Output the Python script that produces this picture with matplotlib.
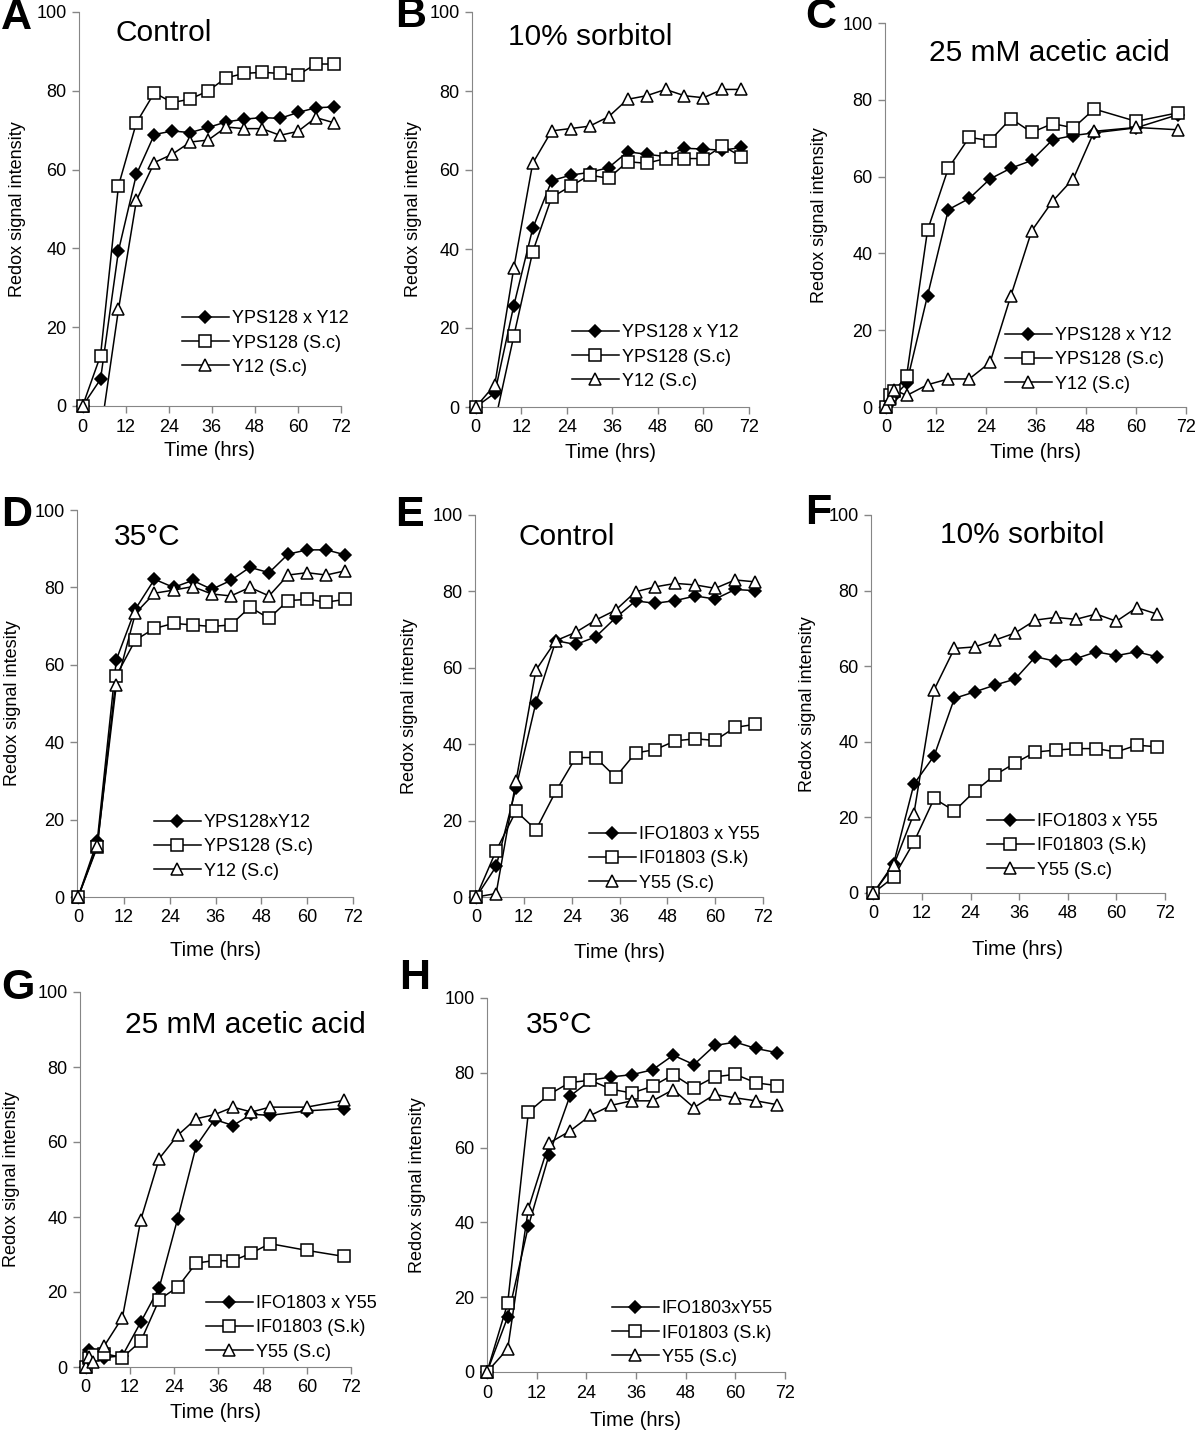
import numpy as np
import matplotlib.pyplot as plt
from matplotlib.lines import Line2D

plt.rcParams.update({
    "font.family": ["Liberation Sans", "DejaVu Sans"],
    "axes.edgecolor": "#868686",
    "xtick.color": "#868686",
    "ytick.color": "#868686",
    "xtick.labelcolor": "black",
    "ytick.labelcolor": "black",
})

# time points (hrs)
t_std = [0, 5, 10, 15, 20, 25, 30, 35, 40, 45, 50, 55, 60, 65, 70]
t_acid = [0, 1, 2, 5, 10, 15, 20, 25, 30, 35, 40, 45, 50, 60, 70]

# A - Control (YPS128 x Y12)
a_hyb = [0, 6.8, 39.4, 58.8, 68.9, 69.8, 69.4, 70.7, 72.1, 72.8, 73.2, 73.0, 74.5, 75.7, 75.9]
a_p1 = [0, 12.8, 55.9, 71.9, 79.5, 77.0, 77.9, 80.0, 83.3, 84.4, 84.7, 84.4, 84.0, 86.8, 86.8]
a_p2 = [0, -7, 24.5, 52.2, 61.8, 63.9, 67.0, 67.5, 70.8, 70.4, 70.4, 68.7, 69.7, 73.2, 71.9]

# B - 10% sorbitol
b_hyb = [0, 3.5, 25.6, 45.2, 57.3, 58.7, 59.4, 60.6, 64.6, 64.0, 63.4, 65.5, 65.3, 65.0, 65.7]
b_p1 = [0, -4, 17.9, 39.3, 53.1, 55.9, 58.7, 57.9, 62.1, 61.7, 62.9, 62.9, 62.9, 66.1, 63.4]
b_p2 = [0, 5.6, 35.1, 61.7, 69.9, 70.5, 71.1, 73.5, 77.9, 78.8, 80.4, 78.8, 78.3, 80.4, 80.4]

# C - 25 mM acetic acid
c_hyb = [0, 1.0, 2.8, 6.2, 29.0, 51.4, 54.3, 59.4, 62.2, 64.2, 69.6, 70.7, 71.4, 72.7, 76.1]
c_p1 = [0, 3.2, 4.1, 8.2, 46.0, 62.2, 70.2, 69.4, 75.1, 71.5, 73.8, 72.7, 77.6, 74.4, 76.6]
c_p2 = [0, 2.0, 4.5, 3.0, 5.8, 7.3, 7.3, 11.6, 29.0, 45.9, 53.6, 59.5, 71.8, 72.8, 72.2]

# D - 35°C
d_hyb = [0, 14.4, 61.3, 74.4, 82.1, 80.0, 81.8, 79.5, 81.8, 85.2, 83.8, 88.6, 89.7, 89.7, 88.4]
d_p1 = [0, 12.9, 57.2, 66.4, 69.4, 70.7, 70.3, 69.9, 70.3, 74.9, 72.0, 76.6, 76.9, 76.2, 76.9]
d_p2 = [0, 13.3, 54.8, 73.3, 78.5, 79.3, 80.2, 78.3, 77.8, 80.0, 77.8, 83.2, 83.8, 83.2, 84.3]

# E - Control (IFO1803 x Y55)
e_hyb = [0, 8.0, 28.6, 50.9, 67.1, 66.1, 68.1, 73.1, 77.5, 76.9, 77.6, 78.8, 78.0, 80.5, 80.2]
e_p1 = [0, 12.1, 22.5, 17.6, 27.7, 36.5, 36.5, 31.4, 37.7, 38.6, 40.9, 41.4, 41.0, 44.4, 45.2]
e_p2 = [0, 0.9, 30.4, 59.4, 67.1, 69.3, 72.5, 75.1, 79.9, 81.2, 82.1, 81.7, 80.8, 83.0, 82.5]

# F - 10% sorbitol
f_hyb = [0, 7.8, 28.8, 36.3, 51.5, 53.2, 55.0, 56.6, 62.5, 61.3, 62.0, 63.8, 62.8, 63.8, 62.5]
f_p1 = [0, 4.2, 13.5, 25.0, 21.7, 26.9, 31.2, 34.4, 37.3, 37.8, 38.2, 38.2, 37.3, 39.1, 38.7]
f_p2 = [0, 7.3, 21.0, 53.8, 64.7, 65.1, 66.9, 68.8, 72.2, 72.9, 72.4, 73.8, 71.9, 75.5, 73.8]

# G - 25 mM acetic acid
g_hyb = [0, 4.6, 3.0, 2.5, 3.0, 12.0, 21.2, 39.6, 58.9, 66.0, 64.4, 67.4, 67.1, 68.3, 68.9]
g_p1 = [0, 2.5, 3.1, 3.6, 2.5, 6.9, 18.0, 21.3, 27.7, 28.4, 28.3, 30.4, 32.9, 31.1, 29.5]
g_p2 = [0, 2.7, 1.3, 5.5, 13.2, 39.3, 55.6, 61.8, 66.2, 67.3, 69.3, 68.0, 69.3, 69.3, 71.1]

# H - 35°C
h_hyb = [0, 14.7, 39.0, 58.1, 73.7, 78.0, 78.9, 79.5, 80.8, 84.7, 82.2, 87.3, 88.2, 86.5, 85.4]
h_p1 = [0, 18.4, 69.5, 74.2, 77.4, 78.0, 75.6, 74.6, 76.4, 79.5, 76.0, 78.9, 79.6, 77.3, 76.6]
h_p2 = [0, 6.2, 43.7, 61.2, 64.4, 68.6, 71.3, 72.5, 72.5, 75.5, 70.7, 74.2, 73.3, 72.5, 71.5]

letters = ["A", "B", "C", "D", "E", "F", "G", "H"]
titles = ["Control", "10% sorbitol", "25 mM acetic acid", "35°C",
          "Control", "10% sorbitol", "25 mM acetic acid", "35°C"]
lab_y12 = ["YPS128 x Y12", "YPS128 (S.c)", "Y12 (S.c)"]
lab_y12b = ["YPS128xY12", "YPS128 (S.c)", "Y12 (S.c)"]
lab_y55 = ["IFO1803 x Y55", "IF01803 (S.k)", "Y55 (S.c)"]
lab_y55b = ["IFO1803xY55", "IF01803 (S.k)", "Y55 (S.c)"]
legend_labels = [lab_y12, lab_y12, lab_y12, lab_y12b, lab_y55, lab_y55, lab_y55, lab_y55b]
ylabels = ["Redox signal intensity"] * 8
ylabels[3] = "Redox signal intesity"

times = [t_std, t_std, t_acid, t_std, t_std, t_std, t_acid, t_std]
data = [(a_hyb, a_p1, a_p2), (b_hyb, b_p1, b_p2), (c_hyb, c_p1, c_p2), (d_hyb, d_p1, d_p2),
        (e_hyb, e_p1, e_p2), (f_hyb, f_p1, f_p2), (g_hyb, g_p1, g_p2), (h_hyb, h_p1, h_p2)]

# layout in pixels: axes left, right, top, bottom, xmin
W, H = 1200, 1437
boxes = [(79, 341, 12, 406, -1), (472, 749, 12, 407, -1), (885, 1186, 23, 407, -0.2),
         (77, 353, 510, 897, -0.3), (475, 763, 515, 897, -0.3), (871, 1165, 515, 893, -0.6),
         (80, 351, 992, 1367, -1.5), (487, 785, 998, 1372, 0)]
# title left/center y, letter left/center y, legend handle left/mid-row y, ylabel x, xlabel y
title_pos = [(115, 33), (508, 37), (929, 53), (114, 537), (518, 537), (940, 535), (125, 1025), (526, 1025)]
letter_pos = [(1, 18), (395, 16), (805, 17), (1, 515), (395, 515), (805, 513), (1, 988), (399, 978)]
legend_pos = [(182, 343), (572, 357), (1005, 360), (154, 847), (589, 859), (987, 846), (206, 1328), (612, 1333)]
ylabel_x = [18, 413, 820, 13, 410, 808, 12, 418]
xlabel_y = [450, 453, 452, 950, 952, 950, 1412, 1420]

styles = [dict(marker="D", mfc="black", mec="black", ms=6.5),
          dict(marker="s", mfc="white", mec="black", ms=8.5),
          dict(marker="^", mfc="white", mec="black", ms=8.5)]

fig = plt.figure(figsize=(W / 100, H / 100), dpi=100)

for i in range(8):
    l, r, t, b, xmin = boxes[i]
    ax = fig.add_axes([l / W, 1 - b / H, (r - l) / W, (b - t) / H])
    tt = np.array(times[i], dtype=float)
    for k, series in enumerate(data[i]):
        v = np.array(series, dtype=float)
        ax.plot(tt, v, color="black", lw=1.1, zorder=2)
        ok = v >= 0
        ax.plot(tt[ok], v[ok], ls="none", mew=1.1, clip_on=False, zorder=3 + k, **styles[k])
    ax.set_xlim(xmin, 72)
    ax.set_ylim(0, 100)
    ax.set_xticks(range(0, 73, 12))
    ax.set_yticks(range(0, 101, 20))
    ax.tick_params(direction="out", length=5, width=1, labelsize=13, pad=4)
    for s in ["top", "right"]:
        ax.spines[s].set_visible(False)
    ax.set_xlabel("Time (hrs)", fontsize=14.5, va="center")
    ax.set_ylabel(ylabels[i], fontsize=13, va="center")
    ax.xaxis.set_label_coords(0.5, (b - xlabel_y[i]) / (b - t))
    ax.yaxis.set_label_coords((ylabel_x[i] - l) / (r - l), 0.5)

    tx, ty = title_pos[i]
    fig.text(tx / W, 1 - ty / H, titles[i], fontsize=21.5, ha="left", va="center")
    lx, ly = letter_pos[i]
    fig.text(lx / W, 1 - ly / H, letters[i], fontsize=31, fontweight="bold", ha="left", va="center")

    handles = [Line2D([0], [0], color="black", lw=1.1, mew=1.1, **st) for st in styles]
    gx, gy = legend_pos[i]
    ax.legend(handles, legend_labels[i], loc="center left",
              bbox_to_anchor=((gx - l) / (r - l), (b - gy) / (b - t)),
              frameon=False, fontsize=13, handlelength=2.6, handletextpad=0.15,
              labelspacing=0.4, borderpad=0, borderaxespad=0)

fig.savefig("out.png", dpi=100)
